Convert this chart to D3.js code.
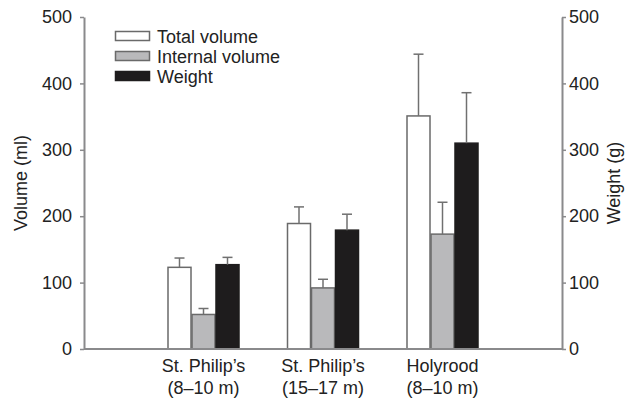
<!DOCTYPE html>
<html><head><meta charset="utf-8">
<script src="https://cdn.jsdelivr.net/npm/d3@7"></script>
<style>body{margin:0;background:#fff}svg{display:block}text{font-family:"Liberation Sans",Arial,sans-serif;fill:#222}</style>
</head><body><svg id="c" width="625" height="400"></svg>
<script>
const sites = ["St. Philip\u2019s|(8\u201310 m)", "St. Philip\u2019s|(15\u201317 m)", "Holyrood|(8\u201310 m)"];
const seriesNames = ["Total volume", "Internal volume", "Weight"];
const totalVolume = [123, 189, 351];
const internalVolume = [52, 92, 173];
const weight = [127, 179, 310];
const totalErr = [137, 214, 444];
const internalErr = [61, 105, 221];
const weightErr = [138, 203, 386];
const yTicks = [0, 100, 200, 300, 400, 500];

const values = [totalVolume, internalVolume, weight];
const errs = [totalErr, internalErr, weightErr];
const fills = ["#ffffff", "#b9b9bb", "#1e1c1d"];
const strokes = ["#6a6a6a", "#6a6a6a", "#1e1c1d"];
const FS = 18;

const svg = d3.select("#c");
const L = 84, R = 562, T = 17, B = 349;
const x = d3.scalePoint().domain(sites).range([L, R]).padding(1);
const y = d3.scaleLinear().domain([0, 500]).range([B, T]);
const yR = d3.scaleLinear().domain([0, 500]).range([B, T]);
const bw = 24;

// bars
values.forEach((vals, si) => {
  const g = svg.append("g");
  g.selectAll("rect").data(sites).join("rect")
    .attr("x", (d) => x(d) + (si - 1.5) * bw + 0.5)
    .attr("y", (d, i) => y(vals[i]))
    .attr("width", bw - 1)
    .attr("height", (d, i) => B - y(vals[i]))
    .attr("fill", fills[si]).attr("stroke", strokes[si]).attr("stroke-width", 1.5);
  g.selectAll("line.v").data(sites).join("line").attr("class", "v")
    .attr("x1", (d) => x(d) + (si - 1) * bw).attr("x2", (d) => x(d) + (si - 1) * bw)
    .attr("y1", (d, i) => y(vals[i])).attr("y2", (d, i) => y(errs[si][i]))
    .attr("stroke", "#707070").attr("stroke-width", 1.5);
  g.selectAll("line.c").data(sites).join("line").attr("class", "c")
    .attr("x1", (d) => x(d) + (si - 1) * bw - 5).attr("x2", (d) => x(d) + (si - 1) * bw + 5)
    .attr("y1", (d, i) => y(errs[si][i])).attr("y2", (d, i) => y(errs[si][i]))
    .attr("stroke", "#707070").attr("stroke-width", 1.5);
});

// axes
const axL = svg.append("g").attr("transform", `translate(${L},0)`)
  .call(d3.axisLeft(y).tickValues(yTicks).tickSize(4).tickPadding(8).tickSizeOuter(0));
const axR = svg.append("g").attr("transform", `translate(${R},0)`)
  .call(d3.axisRight(yR).tickValues(yTicks).tickSize(4).tickPadding(3).tickSizeOuter(0));
const axB = svg.append("g").attr("transform", `translate(0,${B})`)
  .call(d3.axisBottom(x).tickSize(0).tickFormat(""));
axB.select(".domain").attr("d", `M${L},0H${R}`);
[axL, axR, axB].forEach(a => {
  a.select(".domain").attr("stroke", "#8a8a8c").attr("stroke-width", 2);
  a.selectAll(".tick line").attr("stroke", "#8a8a8c").attr("stroke-width", 1.5);
  a.selectAll(".tick text").attr("font-size", FS).attr("fill", "#222")
    .attr("font-family", "Liberation Sans, Arial, sans-serif");
});

// x category labels
sites.forEach(s => {
  const parts = s.split("|");
  const t = svg.append("text").attr("text-anchor", "middle").attr("font-size", FS);
  t.append("tspan").attr("x", x(s)).attr("y", 372).text(parts[0]);
  t.append("tspan").attr("x", x(s)).attr("y", 394).text(parts[1]);
});

// axis titles
svg.append("text").attr("transform", `translate(27,183) rotate(-90)`)
  .attr("text-anchor", "middle").attr("font-size", FS).text("Volume (ml)");
svg.append("text").attr("transform", `translate(620,183) rotate(-90)`)
  .attr("text-anchor", "middle").attr("font-size", FS).text("Weight (g)");

// legend
seriesNames.forEach((n, i) => {
  const yy = 31.5 + i * 20;
  svg.append("rect").attr("x", 115.5).attr("y", yy).attr("width", 34).attr("height", 9)
    .attr("fill", fills[i]).attr("stroke", strokes[i]).attr("stroke-width", 1.5);
  svg.append("text").attr("x", 157).attr("y", yy + 11).attr("font-size", FS).text(n);
});
</script></body></html>
